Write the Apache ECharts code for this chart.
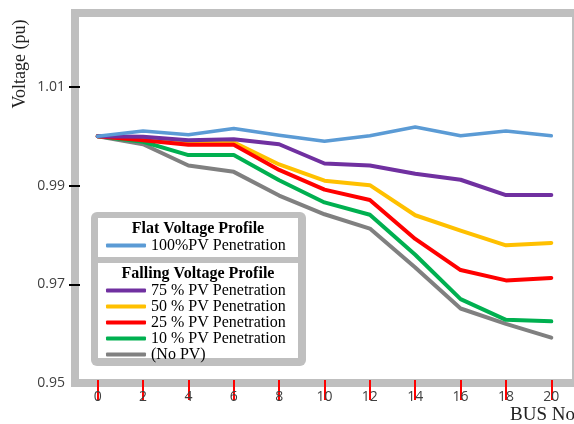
<!DOCTYPE html>
<html>
<head>
<meta charset="utf-8">
<script src="https://cdn.jsdelivr.net/npm/echarts@6/dist/echarts.min.js"></script>
<style>
html,body{margin:0;padding:0;background:#fff;}
#chart{width:574px;height:424px;}
</style>
</head>
<body>
<div id="chart"></div>
<script>
// ---- data ----
const busNo = [0, 2, 4, 6, 8, 10, 12, 14, 16, 18, 20];
const pv100 = [1.0000, 1.0011, 1.0003, 1.0016, 1.0002, 0.9990, 1.0001, 1.0019, 1.0001, 1.0011, 1.0001];
const pv75  = [1.0000, 0.9999, 0.9992, 0.9994, 0.9984, 0.9945, 0.9941, 0.9924, 0.9912, 0.9881, 0.9881];
const pv50  = [1.0000, 0.9995, 0.9987, 0.9988, 0.9943, 0.9910, 0.9901, 0.9840, 0.9809, 0.9779, 0.9784];
const pv25  = [1.0000, 0.9992, 0.9983, 0.9983, 0.9932, 0.9892, 0.9871, 0.9792, 0.9729, 0.9708, 0.9713];
const pv10  = [1.0000, 0.9989, 0.9962, 0.9962, 0.9911, 0.9866, 0.9841, 0.9760, 0.9670, 0.9628, 0.9625];
const noPV  = [1.0000, 0.9984, 0.9941, 0.9928, 0.9880, 0.9842, 0.9813, 0.9734, 0.9651, 0.9620, 0.9592];

const xTicks = [0, 2, 4, 6, 8, 10, 12, 14, 16, 18, 20];
const yTickMarks = [0.97, 0.99, 1.01];
const yTickLabels = [0.95, 0.97, 0.99, 1.01];

const names = {
  pv100: '100%PV Penetration',
  pv75: '75 % PV Penetration',
  pv50: '50 % PV Penetration',
  pv25: '25 % PV Penetration',
  pv10: '10 % PV Penetration',
  noPV: '(No PV)'
};

function pairs(arr) { return busNo.map((b, i) => [b, arr[i]]); }
function line(name, arr, color, width) {
  return {
    name: name, type: 'line', data: pairs(arr), symbol: 'none',
    color: color,
    lineStyle: { color: color, width: width, cap: 'round', join: 'round' },
    emphasis: { disabled: true }, animation: false
  };
}

const serif = 'Liberation Serif';
const chart = echarts.init(document.getElementById('chart'), null, { renderer: 'canvas' });
chart.setOption({
  backgroundColor: '#ffffff',
  animation: false,
  grid: { left: 75, top: 13, width: 501, height: 370, show: false },
  xAxis: [{
    type: 'value', min: -1, max: 21, z: 10, offset: -3,
    axisLine: { show: false, onZero: false },
    splitLine: { show: false },
    axisTick: { show: true, customValues: xTicks, length: 20, lineStyle: { color: '#f00', width: 2 } },
    axisLabel: { customValues: xTicks, margin: 10, color: '#404040', fontFamily: 'Open Sans', fontSize: 14 }
  }],
  yAxis: {
    type: 'value', min: 0.95, max: 1.025, z: 10, offset: -5,
    axisLine: { show: false, onZero: false },
    splitLine: { show: false },
    axisTick: { show: true, customValues: yTickMarks, length: 11, lineStyle: { color: '#000', width: 2 } },
    axisLabel: { customValues: yTickLabels, margin: 15, color: '#404040', fontFamily: 'Open Sans', fontSize: 14,
      formatter: v => Number(v).toFixed(2) }
  },
  legend: [
    {
      data: [names.pv100], left: 106, top: 237.5, padding: 0, z: 20,
      icon: 'roundRect', itemWidth: 40, itemHeight: 4, selectedMode: false,
      textStyle: { fontFamily: serif, fontSize: 16, color: '#000', lineHeight: 15 }
    },
    {
      data: [names.pv75, names.pv50, names.pv25, names.pv10, names.noPV],
      orient: 'vertical', left: 106, top: 282.5, padding: 0, itemGap: 0, z: 20,
      icon: 'roundRect', itemWidth: 40, itemHeight: 4, selectedMode: false,
      textStyle: { fontFamily: serif, fontSize: 16, color: '#000', lineHeight: 15 }
    }
  ],
  graphic: [
    { type: 'rect', z: -10, shape: { x: 75, y: 13, width: 501, height: 370 },
      style: { fill: 'none', stroke: '#bfbfbf', lineWidth: 8 } },
    { type: 'rect', z: 10, shape: { x: 91, y: 212, width: 215, height: 154, r: 6 }, style: { fill: '#bfbfbf' } },
    { type: 'rect', z: 11, shape: { x: 98, y: 218, width: 200, height: 39 }, style: { fill: '#ffffff' } },
    { type: 'rect', z: 11, shape: { x: 98, y: 263, width: 200, height: 95 }, style: { fill: '#ffffff' } },
    { type: 'text', z: 12, x: 198, y: 229, style: { text: 'Flat Voltage Profile', fill: '#000',
        font: 'bold 16px "Liberation Serif"', align: 'center', verticalAlign: 'middle' } },
    { type: 'text', z: 12, x: 198, y: 274, style: { text: 'Falling Voltage Profile', fill: '#000',
        font: 'bold 16px "Liberation Serif"', align: 'center', verticalAlign: 'middle' } },
    { type: 'text', z: 12, x: 20, y: 64, rotation: Math.PI / 2, style: { text: 'Voltage (pu)', fill: '#222',
        font: '18px "Liberation Serif"', align: 'center', verticalAlign: 'middle' } },
    { type: 'text', z: 12, x: 575, y: 415, style: { text: 'BUS No', fill: '#222',
        font: '19px "Liberation Serif"', align: 'right', verticalAlign: 'middle' } }
  ],
  series: [
    line(names.noPV, noPV, '#808080', 4),
    line(names.pv10, pv10, '#00b050', 4),
    line(names.pv50, pv50, '#ffc000', 4),
    line(names.pv25, pv25, '#ff0000', 4),
    line(names.pv75, pv75, '#7030a0', 4),
    line(names.pv100, pv100, '#5b9bd5', 3.5)
  ]
});
</script>
</body>
</html>
